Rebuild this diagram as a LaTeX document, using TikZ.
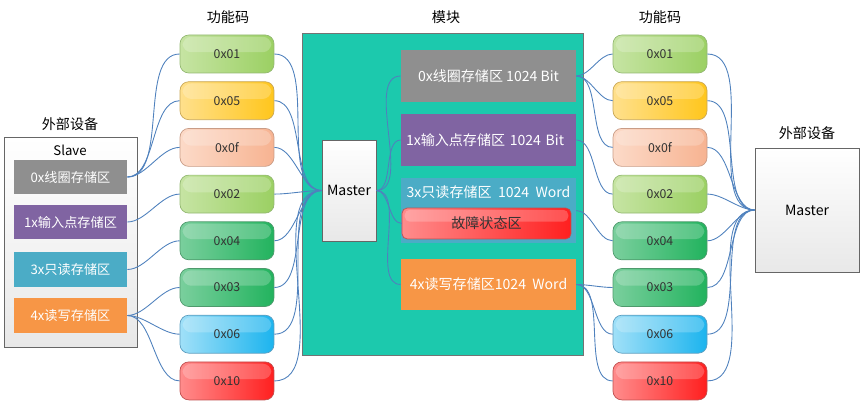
\documentclass[tikz,border=0pt]{standalone}
\usepackage{fontspec}
\setmainfont{Noto Sans CJK SC}
\usepackage{tikz}
\usetikzlibrary{calc}
\definecolor{lnk}{RGB}{79,129,189}
\definecolor{teal}{RGB}{28,201,173}
\definecolor{gry}{RGB}{143,143,143}
\definecolor{pur}{RGB}{128,100,162}
\definecolor{cya}{RGB}{75,172,198}
\definecolor{ora}{RGB}{247,150,70}
\definecolor{lgL}{HTML}{C6E4A3}\definecolor{lgR}{HTML}{9BD063}\definecolor{lgD}{HTML}{93B872}
\definecolor{yeL}{HTML}{FFE08C}\definecolor{yeR}{HTML}{FFC61C}\definecolor{yeD}{HTML}{C9A756}
\definecolor{peL}{HTML}{FCDAC8}\definecolor{peR}{HTML}{F7B391}\definecolor{peD}{HTML}{C99C86}
\definecolor{dgL}{HTML}{7ACF9D}\definecolor{dgR}{HTML}{22B35E}\definecolor{dgD}{HTML}{4E9A6C}
\definecolor{blL}{HTML}{A0E0F8}\definecolor{blR}{HTML}{1CB4EE}\definecolor{blD}{HTML}{5C9EC0}
\definecolor{reL}{HTML}{FF8C8C}\definecolor{reR}{HTML}{FF1F1F}\definecolor{reD}{HTML}{C04F4F}
\tikzset{l/.style={font=\fontsize{8}{8}\selectfont}}
\tikzset{m/.style={font=\fontsize{7}{7}\selectfont}}
\tikzset{gloss/.style={path picture={\fill[white,opacity=.22]
  ([xshift=1.5pt,yshift=-1pt]path picture bounding box.north west) rectangle
  ([xshift=-1.5pt,yshift=1pt]path picture bounding box.east);}}}
\tikzset{code/.style={rounded corners=5pt, minimum width=1.88cm, minimum height=0.76cm,
  inner sep=0pt, m, text=black!80, gloss}}
\tikzset{store/.style={minimum width=2.26cm, minimum height=0.7cm, inner sep=0pt, text=white,
  font=\fontsize{7.5}{7.5}\selectfont}}
\tikzset{area/.style={minimum width=3.5cm, minimum height=1.04cm, inner sep=0pt, text=white, l}}
\tikzset{dev/.style={draw=black!60, top color=white, bottom color=black!9, inner sep=0pt}}
\tikzset{link/.style={draw=lnk, line width=0.5pt, out=0, in=180, looseness=0.8}}
\begin{document}
\begin{tikzpicture}[x=0.02cm, y=-0.02cm]
\useasboundingbox (0,0) rectangle (864,408);

% titles
\node[l] (tl) at (228,17) {功能码};
\node[l] (tm) at (446,17) {模块};
\node[l] (tr) at (660,17) {功能码};
\node[l] (dl) at (70,124) {外部设备};
\node[l] (dr) at (807,133) {外部设备};

% left device
\node[dev, minimum width=2.66cm, minimum height=4.2cm] (slave) at (70.5,242) {};
\node[font=\fontsize{7.5}{7.5}\selectfont] (st) at (70,150) {Slave};
\node[store, fill=gry] (s0) at (70.5,177) {0x线圈存储区};
\node[store, fill=pur] (s1) at (70.5,222) {1x输入点存储区};
\node[store, fill=cya] (s3) at (70.5,269.5) {3x只读存储区};
\node[store, fill=ora] (s4) at (70.5,315.5) {4x读写存储区};

% module
\node[draw=black!55, fill=teal, minimum width=5.62cm, minimum height=6.44cm] (mod) at (442.5,194) {};
\node[dev, minimum width=1.08cm, minimum height=2.02cm, l] (mst) at (349,190.5) {Master};
\node[area, fill=gry] (m0) at (488.5,76) {0x线圈存储区 1024 Bit};
\node[area, fill=pur, text width=3.3cm, align=left] (m1) at (488.5,140) {1x输入点存储区 1024 Bit};
\node[area, fill=cya, minimum height=1.3cm] (m3) at (488.5,210.5) {};
\node[l, text=white] (m3t) at (488.5,192) {3x只读存储区\ \ 1024\ \ Word};
\node[draw=reD, left color=reL, right color=reR, rounded corners=3pt, minimum width=3.38cm,
  minimum height=0.62cm, inner sep=0pt, l, text=black!80, gloss] (mf) at (486.5,223.5) {故障状态区};
\node[area, fill=ora] (m4) at (488.5,284.5) {4x读写存储区1024\ \ Word};

% right device
\node[dev, minimum width=2.08cm, minimum height=2.48cm, l] (ext) at (807,210) {Master};

% function codes
\foreach \i/\t/\col in {1/0x01/lg, 2/0x05/ye, 3/0x0f/pe, 4/0x02/lg,
                        5/0x04/dg, 6/0x03/dg, 7/0x06/bl, 8/0x10/re} {
  \node[code, left color=\col L, right color=\col R, draw=\col D] (fl\i) at (227,{54+46.7*(\i-1)}) {\t};
  \node[code, left color=\col L, right color=\col R, draw=\col D] (fr\i) at (660,{54+46.7*(\i-1)}) {\t};
  \draw[link] (fl\i.east) to (mst.west);
  \draw[link] (fr\i.east) to (ext.west);
}

% left links
\foreach \j in {1,2,3} \draw[link] (s0.east) to (fl\j.west);
\draw[link] (s1.east) to (fl4.west);
\draw[link] (s3.east) to (fl5.west);
\foreach \j in {6,7,8} \draw[link] (s4.east) to (fl\j.west);

% module links
\foreach \b in {m0,m1,mf,m4} \draw[link] (mst.east) to (\b.west);

% right links
\foreach \j in {1,2,3} \draw[link] (m0.east) to (fr\j.west);
\draw[link] (m1.east) to (fr4.west);
\draw[link] (m3.east) to (fr5.west);
\foreach \j in {6,7,8} \draw[link] (m4.east) to (fr\j.west);
\end{tikzpicture}
\end{document}
